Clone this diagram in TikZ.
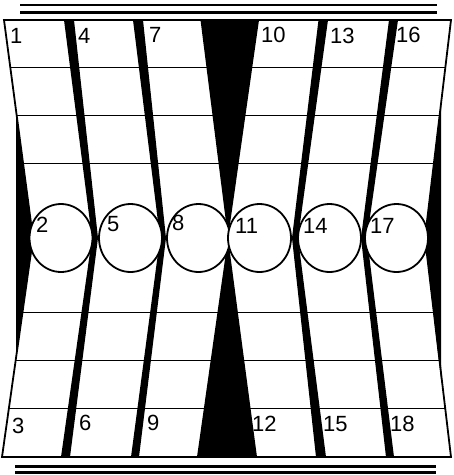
\documentclass[tikz,border=0pt]{standalone}
\usepackage{fontspec}
\setmainfont{Liberation Sans}

\begin{document}
\begin{tikzpicture}[x=1pt,y=-1pt, every node/.style={font=\fontsize{22}{22}\selectfont, inner sep=0pt, anchor=west},
    rule/.style={line width=2.4pt},
    grid/.style={line width=1.8pt},
    bar/.style={fill=black},
    ring/.style={line width=1.8pt, fill=white}]
    \useasboundingbox (0,0) rectangle (454,475);
    \draw[rule] (20,5) -- (437,5);
    \draw[rule] (20,12.5) -- (437,12.5);
    \draw[rule] (15,466.5) -- (436,466.5);
    \draw[rule] (15,472.5) -- (436,472.5);
    \begin{scope}
        \clip (4,20) -- (451,20) -- (425,238) -- (451,457) -- (2,457) -- (33,238) -- cycle;
        \draw[grid] (0,67.5) -- (454,67.5);
        \draw[grid] (0,115.5) -- (454,115.5);
        \draw[grid] (0,163.5) -- (454,163.5);
        \draw[grid] (0,312.5) -- (454,312.5);
        \draw[grid] (0,360.5) -- (454,360.5);
        \draw[grid] (0,408.5) -- (454,408.5);
    \end{scope}
    \draw[grid] (4,20) -- (451,20) -- (425,238) -- (451,457) -- (2,457) -- (33,238) -- cycle;
    \fill[bar] (16,110) -- (33,238) -- (16,358) -- cycle;
    \fill[bar] (441,103) -- (425,238) -- (441,379) -- cycle;
    \fill[bar] (64,20) -- (74,20) -- (98,238) -- (70,457) -- (61,457) -- (92,238) -- cycle;
    \fill[bar] (133,20) -- (143,20) -- (166,238) -- (139,457) -- (131,457) -- (160,238) -- cycle;
    \fill[bar] (318.5,20) -- (328,20) -- (298,238) -- (326,457) -- (316,457) -- (292,238) -- cycle;
    \fill[bar] (389,20) -- (398,20) -- (367,238) -- (394,457) -- (386,457) -- (361,238) -- cycle;
    \fill[bar] (200.5,20) -- (259,20) -- (228,238) -- cycle;
    \fill[bar] (197,457) -- (257,457) -- (228,238) -- cycle;
    \draw[ring] (61,238) ellipse[x radius=31.5pt, y radius=34pt];
    \draw[ring] (130.5,238) ellipse[x radius=31.5pt, y radius=34pt];
    \draw[ring] (198.5,238) ellipse[x radius=31.5pt, y radius=34pt];
    \draw[ring] (259.5,238) ellipse[x radius=31.5pt, y radius=34pt];
    \draw[ring] (329.5,238) ellipse[x radius=31.5pt, y radius=34pt];
    \draw[ring] (396.5,238) ellipse[x radius=31.5pt, y radius=34pt];
    \node (pt1) at (10,35.5) {1};
    \node (pt4) at (78,35.5) {4};
    \node (pt7) at (149,35) {7};
    \node (pt10) at (261,35) {10};
    \node (pt13) at (330,35.5) {13};
    \node (pt16) at (396,35) {16};
    \node (pt2) at (36,225) {2};
    \node (pt5) at (107,224) {5};
    \node (pt8) at (172,223) {8};
    \node (pt11) at (235,226) {11};
    \node (pt14) at (303,226) {14};
    \node (pt17) at (370,226) {17};
    \node (pt3) at (12,426) {3};
    \node (pt6) at (79,423) {6};
    \node (pt9) at (147,423) {9};
    \node (pt12) at (252,424) {12};
    \node (pt15) at (323,424) {15};
    \node (pt18) at (390,424) {18};
\end{tikzpicture}
\end{document}
